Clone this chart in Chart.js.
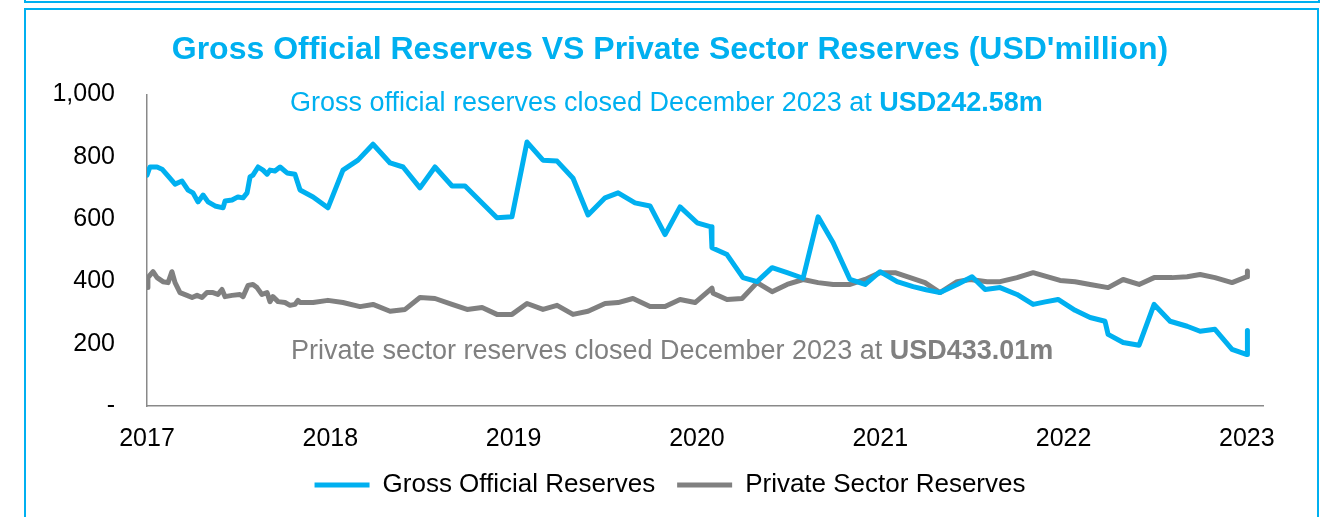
<!DOCTYPE html>
<html>
<head>
<meta charset="utf-8">
<title>Gross Official Reserves VS Private Sector Reserves</title>
<script src="https://cdn.jsdelivr.net/npm/chart.js@4/dist/chart.umd.min.js"></script>
<style>
    body { margin: 0; background: #ffffff; overflow: hidden; }
    .frame { position: absolute; border: 2px solid #00B0F0; box-sizing: border-box; }
    #upper-frame { left: 24px; top: -40px; width: 1296px; height: 43px; }
    #chart-frame { left: 24px; top: 8px; width: 1295px; height: 530px; }
    #reserves-chart { position: absolute; left: 0; top: 0; }
</style>
</head>
<body>
<div class="frame" id="upper-frame"></div>
<div class="frame" id="chart-frame"></div>
<canvas id="reserves-chart" width="1340" height="517"></canvas>
<script>
// Year labels on the x axis
let tickYears = [2017, 2018, 2019, 2020, 2021, 2022, 2023];

// Gross official reserves (USD million), dates as fractional years
let officialDates = [
    2017.000, 2017.016, 2017.055, 2017.082, 2017.125, 2017.153, 2017.191, 2017.224, 2017.251, 2017.278,
    2017.306, 2017.333, 2017.371, 2017.415, 2017.426, 2017.464, 2017.496, 2017.524, 2017.546, 2017.562,
    2017.578, 2017.606, 2017.633, 2017.655, 2017.671, 2017.698, 2017.726, 2017.764, 2017.807, 2017.835,
    2017.906, 2017.987, 2018.069, 2018.151, 2018.233, 2018.326, 2018.397, 2018.489, 2018.571, 2018.664,
    2018.735, 2018.817, 2018.909, 2018.991, 2019.073, 2019.160, 2019.237, 2019.324, 2019.406, 2019.499,
    2019.570, 2019.662, 2019.744, 2019.826, 2019.908, 2020.001, 2020.077, 2020.082, 2020.164, 2020.251,
    2020.328, 2020.410, 2020.492, 2020.579, 2020.661, 2020.743, 2020.835, 2020.917, 2020.999, 2021.092,
    2021.179, 2021.250, 2021.326, 2021.419, 2021.501, 2021.572, 2021.654, 2021.746, 2021.834, 2021.900,
    2021.970, 2022.063, 2022.145, 2022.226, 2022.243, 2022.325, 2022.412, 2022.494, 2022.581, 2022.674,
    2022.745, 2022.826, 2022.919, 2023.001, 2023.003
];
let officialValues = [
    741, 767, 767, 760, 731, 712, 722, 693, 684, 655,
    677, 655, 642, 636, 658, 661, 671, 668, 684, 735,
    741, 767, 757, 744, 757, 754, 767, 748, 744, 693,
    671, 636, 757, 789, 840, 780, 767, 700, 767, 706,
    706, 658, 604, 607, 847, 789, 786, 731, 613, 668,
    684, 652, 642, 550, 639, 588, 575, 508, 486, 412,
    399, 444, 428, 410, 607, 524, 406, 390, 431, 399,
    383, 373, 364, 390, 415, 374, 380, 358, 326, 334,
    342, 307, 284, 272, 230, 204, 195, 326, 272, 256,
    240, 246, 182, 165, 242.58
];

// Private sector reserves (USD million)
let privateDates = [
    2017.000, 2017.005, 2017.033, 2017.055, 2017.087, 2017.115, 2017.136, 2017.153, 2017.180, 2017.218,
    2017.246, 2017.273, 2017.300, 2017.327, 2017.360, 2017.387, 2017.409, 2017.426, 2017.464, 2017.507,
    2017.524, 2017.551, 2017.578, 2017.600, 2017.627, 2017.655, 2017.671, 2017.687, 2017.715, 2017.753,
    2017.780, 2017.807, 2017.824, 2017.835, 2017.906, 2017.987, 2018.069, 2018.162, 2018.233, 2018.326,
    2018.408, 2018.489, 2018.571, 2018.664, 2018.746, 2018.828, 2018.909, 2018.991, 2019.073, 2019.160,
    2019.237, 2019.324, 2019.406, 2019.499, 2019.570, 2019.651, 2019.744, 2019.826, 2019.908, 2019.990,
    2020.082, 2020.088, 2020.164, 2020.246, 2020.328, 2020.410, 2020.492, 2020.579, 2020.661, 2020.743,
    2020.835, 2020.917, 2020.999, 2021.081, 2021.163, 2021.244, 2021.326, 2021.419, 2021.490, 2021.583,
    2021.654, 2021.746, 2021.834, 2021.981, 2022.063, 2022.145, 2022.243, 2022.325, 2022.412, 2022.494,
    2022.592, 2022.674, 2022.745, 2022.826, 2022.919, 2023.001, 2023.003
];
let privateValues = [
    380, 412, 431, 412, 399, 396, 431, 396, 364, 355,
    348, 355, 348, 364, 364, 358, 374, 351, 355, 358,
    351, 387, 390, 380, 358, 364, 335, 351, 335, 332,
    323, 326, 339, 332, 332, 339, 332, 319, 326, 304,
    310, 348, 345, 326, 310, 316, 294, 294, 329, 310,
    323, 294, 304, 329, 332, 345, 319, 319, 342, 332,
    378, 362, 342, 345, 396, 367, 390, 406, 396, 390,
    390, 406, 428, 428, 412, 396, 364, 399, 406, 399,
    399, 412, 428, 403, 399, 390, 380, 406, 390, 412,
    412, 415, 422, 412, 396, 415, 433.01
];

let blue = "#00B0F0";
let grey = "#808080";
let fontFamily = "'Liberation Sans', Arial, sans-serif";

// Pair each date with its value for the linear x axis
function toPoints(dates, values)
{
    let points = [];
    for (let i = 0; i < dates.length; i++)
    {
        points.push({ x: dates[i], y: values[i] });
    }
    return points;
}

// Closing-balance notes written inside the plot: regular text followed by the bold amount
let closingNotes = [
    { year: 2017.78, value: 970, text: "Gross official reserves closed December 2023 at ", amount: "USD242.58m", color: blue },
    { year: 2017.785, value: 176, text: "Private sector reserves closed December 2023 at ", amount: "USD433.01m", color: grey }
];

let closingNotesPlugin =
{
    id: "closingNotes",
    afterDraw(chart)
    {
        let ctx = chart.ctx;
        let xScale = chart.scales.x;
        let yScale = chart.scales.y;
        ctx.save();
        ctx.textBaseline = "middle";
        ctx.textAlign = "left";
        for (let note of closingNotes)
        {
            let x = xScale.getPixelForValue(note.year);
            let y = yScale.getPixelForValue(note.value);
            ctx.fillStyle = note.color;
            ctx.font = `27px ${fontFamily}`;
            ctx.fillText(note.text, x, y);
            let offset = ctx.measureText(note.text).width;
            ctx.font = `bold 27px ${fontFamily}`;
            ctx.fillText(note.amount, x + offset, y);
        }
        ctx.restore();
    }
};

new Chart(document.getElementById("reserves-chart"),
{
    type: "line",
    data:
    {
        datasets: [
            {
                label: "Gross Official Reserves",
                data: toPoints(officialDates, officialValues),
                borderColor: blue,
                backgroundColor: blue,
                borderWidth: 5,
                pointRadius: 0,
                borderJoinStyle: "round",
                borderCapStyle: "round"
            },
            {
                label: "Private Sector Reserves",
                data: toPoints(privateDates, privateValues),
                borderColor: grey,
                backgroundColor: grey,
                borderWidth: 5,
                pointRadius: 0,
                borderJoinStyle: "round",
                borderCapStyle: "round"
            }
        ]
    },
    options:
    {
        responsive: false,
        animation: false,
        devicePixelRatio: 1,
        layout: { padding: { left: 0, right: 0, top: 0, bottom: 9 } },
        plugins:
        {
            title:
            {
                display: true,
                text: "Gross Official Reserves VS Private Sector Reserves (USD'million)",
                color: blue,
                font: { family: fontFamily, size: 32, weight: "bold" },
                padding: { top: 31, bottom: 25 }
            },
            legend:
            {
                position: "bottom",
                labels:
                {
                    color: "#000000",
                    font: { family: fontFamily, size: 26 },
                    usePointStyle: true,
                    pointStyle: "line",
                    pointStyleWidth: 55,
                    padding: 22
                }
            },
            tooltip: { enabled: false }
        },
        scales:
        {
            x:
            {
                type: "linear",
                min: 2017,
                max: 2023.088,
                afterBuildTicks: (scale) => { scale.ticks = tickYears.map(year => ({ value: year })); },
                afterFit: (scale) => { scale.height = 44; },
                grid: { drawOnChartArea: false, drawTicks: false },
                border: { color: "#898989", width: 1.5 },
                ticks:
                {
                    autoSkip: false,
                    maxRotation: 0,
                    padding: 18,
                    color: "#000000",
                    font: { family: fontFamily, size: 25 },
                    callback: (value) => String(value)
                }
            },
            y:
            {
                min: 0,
                max: 1000,
                afterFit: (scale) => { scale.width = 147; },
                grid: { drawOnChartArea: false, drawTicks: false },
                border: { color: "#898989", width: 1.5 },
                ticks:
                {
                    stepSize: 200,
                    padding: 32,
                    color: "#000000",
                    font: { family: fontFamily, size: 25 },
                    callback: (value) => value === 0 ? "-" : value.toLocaleString("en-US")
                }
            },
            // Empty band on the right so the plot ends where the frame margin begins
            rightMargin:
            {
                position: "right",
                afterFit: (scale) => { scale.width = 77; },
                grid: { display: false },
                border: { display: false },
                ticks: { display: false }
            }
        }
    },
    plugins: [closingNotesPlugin]
});
</script>
</body>
</html>
